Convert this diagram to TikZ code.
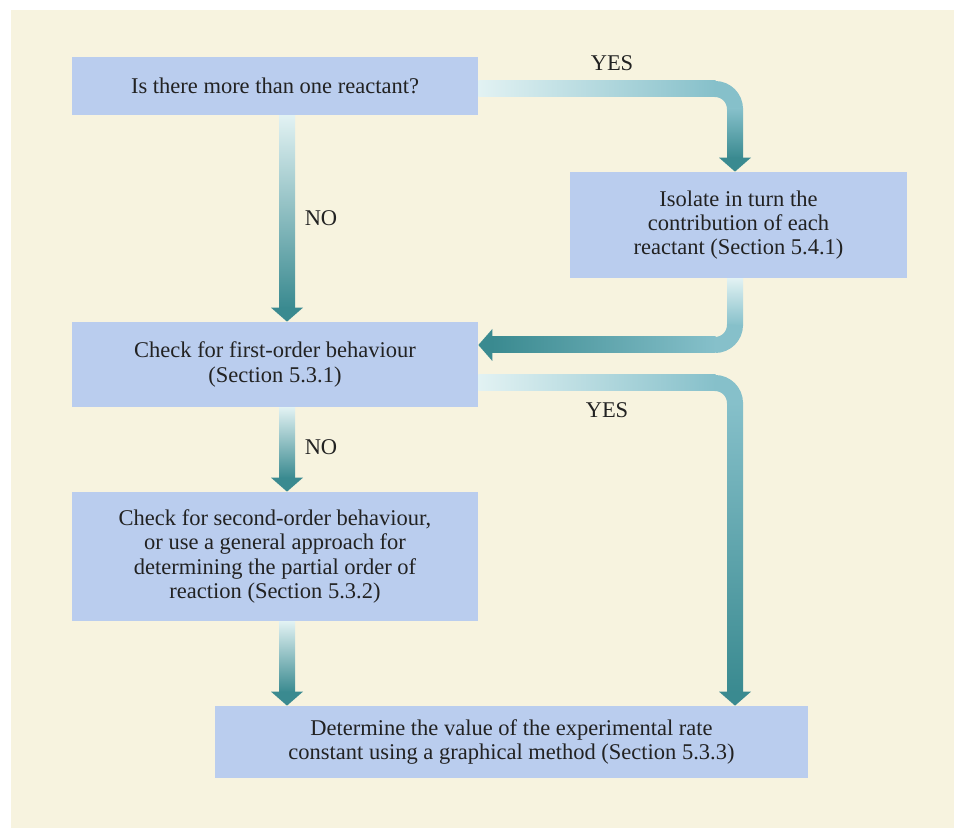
\documentclass[tikz,border=0pt]{standalone}
\usepackage{fontspec}
\setmainfont{Liberation Serif}
\usepackage{tikz}
\usetikzlibrary{calc}

\definecolor{bgcream}{HTML}{F7F3DF}
\definecolor{boxblue}{HTML}{BACDEE}
\definecolor{arrowlight}{HTML}{E2F2F3}
\definecolor{arrowmid}{HTML}{86C0CA}
\definecolor{arrowdark}{HTML}{3A8A90}
\definecolor{textdark}{HTML}{222222}

\tikzset{
	stepbox/.style={fill=boxblue, align=center, inner sep=2pt, text=textdark,
		font=\fontsize{12.8}{13.7}\selectfont},
	answer/.style={text=textdark, font=\fontsize{12.8}{13.7}\selectfont},
	bendline/.style={line width=0.32cm}
}

% arrow heads at a tip coordinate
\newcommand{\headdown}[1]{\fill[arrowdark] ($(#1)+(-0.32,0.28)$) -- (#1) -- ($(#1)+(0.32,0.28)$) -- cycle;}
\newcommand{\headleft}[1]{\fill[arrowdark] ($(#1)+(0.28,0.32)$) -- (#1) -- ($(#1)+(0.28,-0.32)$) -- cycle;}

\begin{document}
\begin{tikzpicture}
		
		% Page and background
		\useasboundingbox (0,0) rectangle (19.08,-16.72);
		\fill[bgcream] (0.22,-0.2) rectangle (19.08,-16.56);
		
		% Boxes
		\node[stepbox, minimum width=8.12cm, minimum height=1.16cm] (q1) at (5.5,-1.72)
			{Is there more than one reactant?};
		\node[stepbox, minimum width=6.74cm, minimum height=2.12cm] (q2) at (14.77,-4.5)
			{Isolate in turn the\\contribution of each\\reactant (Section 5.4.1)};
		\node[stepbox, minimum width=8.12cm, minimum height=1.7cm] (q3) at (5.5,-7.29)
			{Check for first-order behaviour\\(Section 5.3.1)};
		\node[stepbox, minimum width=8.12cm, minimum height=2.58cm] (q4) at (5.5,-11.13)
			{Check for second-order behaviour,\\or use a general approach for\\determining the partial order of\\reaction (Section 5.3.2)};
		\node[stepbox, minimum width=11.86cm, minimum height=1.44cm] (q5) at (10.23,-14.84)
			{Determine the value of the experimental rate\\constant using a graphical method (Section 5.3.3)};
		
		% Arrow columns
		\coordinate (lcol) at (5.74,0);
		\coordinate (rcol) at (14.7,0);
		
		% q1 -> q3 (NO)
		\coordinate (a1s) at (lcol |- q1.south);
		\coordinate (a1e) at (lcol |- q3.north);
		\shade[top color=arrowlight, bottom color=arrowdark] ($(a1s)+(-0.16,0)$) rectangle ($(a1e)+(0.16,0.27)$);
		\headdown{a1e}
		\node[answer] (no1) at (6.42,-4.36) {NO};
		
		% q1 -> q2 (YES)
		\coordinate (a2s) at ($(q1.east)+(0,-0.06)$);
		\coordinate (a2c) at (rcol |- a2s);
		\coordinate (a2e) at (rcol |- q2.north);
		\shade[left color=arrowlight, right color=arrowmid] ($(a2s)+(0,0.16)$) rectangle ($(a2c)+(-0.39,-0.16)$);
		\draw[bendline, arrowmid] ($(a2c)+(-0.4,0)$) arc[start angle=90, end angle=0, radius=0.4];
		\shade[top color=arrowmid, bottom color=arrowdark] ($(a2c)+(-0.16,-0.39)$) rectangle ($(a2e)+(0.16,0.27)$);
		\headdown{a2e}
		\node[answer] (yes1) at (12.24,-1.26) {YES};
		
		% q2 -> q3
		\coordinate (a3s) at (rcol |- q2.south);
		\coordinate (a3c) at ($(rcol |- q3.east)+(0,0.39)$);
		\coordinate (a3e) at ($(q3.east)+(0,0.39)$);
		\shade[top color=arrowlight, bottom color=arrowmid] ($(a3s)+(-0.16,0)$) rectangle ($(a3c)+(0.16,0.39)$);
		\draw[bendline, arrowmid] ($(a3c)+(0,0.4)$) arc[start angle=0, end angle=-90, radius=0.4];
		\shade[left color=arrowdark, right color=arrowmid] ($(a3e)+(0.27,0.16)$) rectangle ($(a3c)+(-0.39,-0.16)$);
		\headleft{a3e}
		
		% q3 -> q5 (YES)
		\coordinate (a4s) at ($(q3.east)+(0,-0.37)$);
		\coordinate (a4c) at (rcol |- a4s);
		\coordinate (a4e) at (rcol |- q5.north);
		\shade[left color=arrowlight, right color=arrowmid] ($(a4s)+(0,0.16)$) rectangle ($(a4c)+(-0.39,-0.16)$);
		\draw[bendline, arrowmid] ($(a4c)+(-0.4,0)$) arc[start angle=90, end angle=0, radius=0.4];
		\shade[top color=arrowmid, bottom color=arrowdark] ($(a4c)+(-0.16,-0.39)$) rectangle ($(a4e)+(0.16,0.27)$);
		\headdown{a4e}
		\node[answer] (yes2) at (12.14,-8.2) {YES};
		
		% q3 -> q4 (NO)
		\coordinate (a5s) at (lcol |- q3.south);
		\coordinate (a5e) at (lcol |- q4.north);
		\shade[top color=arrowlight, bottom color=arrowdark] ($(a5s)+(-0.16,0)$) rectangle ($(a5e)+(0.16,0.27)$);
		\headdown{a5e}
		\node[answer] (no2) at (6.42,-8.94) {NO};
		
		% q4 -> q5
		\coordinate (a6s) at (lcol |- q4.south);
		\coordinate (a6e) at (lcol |- q5.north);
		\shade[top color=arrowlight, bottom color=arrowdark] ($(a6s)+(-0.16,0)$) rectangle ($(a6e)+(0.16,0.27)$);
		\headdown{a6e}
		
	\end{tikzpicture}
\end{document}
